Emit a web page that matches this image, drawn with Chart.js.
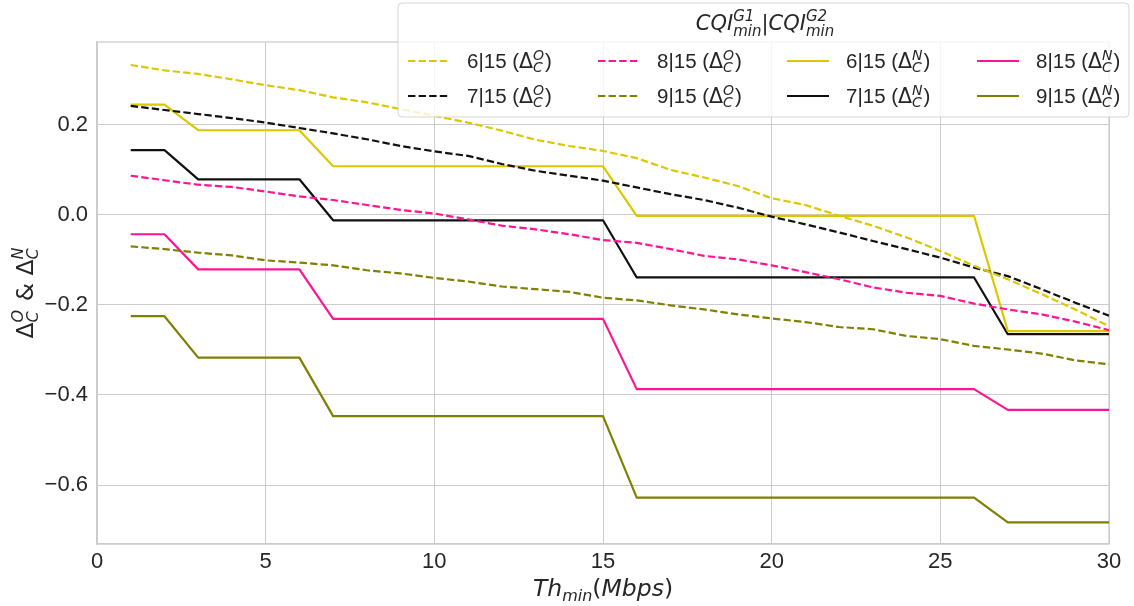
<!DOCTYPE html>
<html>
<head>
<meta charset="utf-8">
<script src="https://cdn.jsdelivr.net/npm/chart.js@4.4.1/dist/chart.umd.min.js"></script>
<style>
html,body{margin:0;padding:0;background:#fff;}
#wrap{width:1134px;height:606px;position:relative;}
</style>
</head>
<body>
<div id="wrap"><canvas id="c" width="1134" height="606"></canvas></div>
<script>
// ---- data ----
const thr = [1,2,3,4,5,6,7,8,9,10,11,12,13,14,15,16,17,18,19,20,21,22,23,24,25,26,27,28,29,30];
const old6 = [0.333,0.321,0.313,0.301,0.288,0.277,0.261,0.250,0.235,0.220,0.205,0.187,0.167,0.153,0.142,0.126,0.100,0.083,0.064,0.037,0.022,-0.002,-0.024,-0.050,-0.080,-0.113,-0.143,-0.176,-0.210,-0.247];
const old7 = [0.242,0.233,0.224,0.215,0.205,0.193,0.181,0.168,0.153,0.141,0.131,0.113,0.098,0.087,0.076,0.061,0.046,0.033,0.016,-0.004,-0.021,-0.039,-0.058,-0.076,-0.095,-0.117,-0.136,-0.165,-0.195,-0.224];
const old8 = [0.087,0.077,0.067,0.062,0.052,0.041,0.033,0.022,0.011,0.003,-0.010,-0.024,-0.032,-0.043,-0.056,-0.062,-0.076,-0.091,-0.099,-0.112,-0.127,-0.143,-0.161,-0.173,-0.180,-0.197,-0.210,-0.221,-0.237,-0.256];
const old9 = [-0.070,-0.076,-0.084,-0.090,-0.101,-0.106,-0.112,-0.123,-0.130,-0.140,-0.148,-0.159,-0.165,-0.171,-0.184,-0.190,-0.201,-0.210,-0.221,-0.230,-0.238,-0.249,-0.254,-0.269,-0.276,-0.291,-0.299,-0.308,-0.323,-0.332];
const new6 = [0.245,0.245,0.188,0.188,0.188,0.188,0.108,0.108,0.108,0.108,0.108,0.108,0.108,0.108,0.108,-0.002,-0.002,-0.002,-0.002,-0.002,-0.002,-0.002,-0.002,-0.002,-0.002,-0.002,-0.258,-0.258,-0.258,-0.258];
const new7 = [0.144,0.144,0.079,0.079,0.079,0.079,-0.012,-0.012,-0.012,-0.012,-0.012,-0.012,-0.012,-0.012,-0.012,-0.139,-0.139,-0.139,-0.139,-0.139,-0.139,-0.139,-0.139,-0.139,-0.139,-0.139,-0.265,-0.265,-0.265,-0.265];
const new8 = [-0.043,-0.043,-0.121,-0.121,-0.121,-0.121,-0.231,-0.231,-0.231,-0.231,-0.231,-0.231,-0.231,-0.231,-0.231,-0.387,-0.387,-0.387,-0.387,-0.387,-0.387,-0.387,-0.387,-0.387,-0.387,-0.387,-0.433,-0.433,-0.433,-0.433];
const new9 = [-0.225,-0.225,-0.317,-0.317,-0.317,-0.317,-0.447,-0.447,-0.447,-0.447,-0.447,-0.447,-0.447,-0.447,-0.447,-0.628,-0.628,-0.628,-0.628,-0.628,-0.628,-0.628,-0.628,-0.628,-0.628,-0.628,-0.683,-0.683,-0.683,-0.683];
const xTicks = [0,5,10,15,20,25,30];
const yTicks = [-0.6,-0.4,-0.2,0.0,0.2];
const seriesNames = ['6|15','7|15','8|15','9|15','6|15','7|15','8|15','9|15'];
const seriesKind = ['O','O','O','O','N','N','N','N'];

// ---- styles ----
const COLORS = {'6|15':'#dcc800','7|15':'#111111','8|15':'#ff1493','9|15':'#808000'};
const DASH = [7.4,3.2];
const GRID = '#cccccc';
const TXT = '#262626';

const seriesData = [old6,old7,old8,old9,new6,new7,new8,new9];
const datasets = seriesData.map((arr,i)=>({
  label: seriesNames[i]+' '+seriesKind[i],
  data: thr.map((x,j)=>({x:x,y:arr[j]})),
  borderColor: COLORS[seriesNames[i]],
  backgroundColor: COLORS[seriesNames[i]],
  borderWidth: 2.2,
  borderDash: seriesKind[i]==='O' ? DASH : [],
  pointRadius: 0,
  tension: 0,
  fill: false,
  borderCapStyle: 'butt',
  borderJoinStyle: 'round'
}));

// ---- rich text helpers ----
function drawRich(ctx, parts, x, y, measureOnly){
  let x0 = x;
  for(const p of parts){
    if(p.sub!==undefined || p.sup!==undefined){
      ctx.font = p.sfont;
      let w = 0;
      if(p.sup){ if(!measureOnly) ctx.fillText(p.sup, x, y - p.supDy); w = Math.max(w, ctx.measureText(p.sup).width); }
      if(p.sub){ if(!measureOnly) ctx.fillText(p.sub, x, y + p.subDy); w = Math.max(w, ctx.measureText(p.sub).width); }
      x += w + (p.after||0);
    } else {
      ctx.font = p.font;
      if(!measureOnly) ctx.fillText(p.t, x, y);
      x += ctx.measureText(p.t).width;
    }
  }
  return x - x0;
}

const MATH = '"DejaVu Sans"';
const SANS = '"Liberation Sans", Arial, sans-serif';

function legendLabel(name, kind){
  return [
    {t: name+' (', font: '20.5px '+SANS},
    {t: '\u0394', font: '20.5px '+MATH},
    {sup: kind, sub: 'C', sfont: 'italic 14px '+MATH, supDy: 8, subDy: 4, after: 1},
    {t: ')', font: '20.5px '+SANS}
  ];
}

const overlay = {
  id: 'overlay',
  beforeDatasetsDraw(chart){
    const ctx = chart.ctx, a = chart.chartArea;
    ctx.save();
    ctx.strokeStyle = GRID;
    ctx.lineWidth = 1.25;
    ctx.strokeRect(a.left, a.top, a.right - a.left, a.bottom - a.top);
    ctx.restore();
  },
  afterDraw(chart){
    const ctx = chart.ctx, a = chart.chartArea;
    ctx.save();
    ctx.fillStyle = TXT;
    ctx.textBaseline = 'alphabetic';
    ctx.textAlign = 'left';

    // x title
    const xt = [
      {t:'Th', font:'italic 23.5px '+MATH},
      {sub:'min', sfont:'italic 16px '+MATH, subDy:5},
      {t:'(', font:'23.5px '+MATH},
      {t:'Mbps', font:'italic 23.5px '+MATH},
      {t:')', font:'23.5px '+MATH}
    ];
    const xw = drawRich(ctx, xt, 0, 0, true);
    drawRich(ctx, xt, (a.left + a.right)/2 - xw/2, 596);

    // y title (rotated)
    const yt = [
      {t:'\u0394', font:'23.5px '+MATH},
      {sup:'O', sub:'C', sfont:'italic 16px '+MATH, supDy:10, subDy:5, after:1},
      {t:' & ', font:'23.5px '+MATH},
      {t:'\u0394', font:'23.5px '+MATH},
      {sup:'N', sub:'C', sfont:'italic 16px '+MATH, supDy:10, subDy:5}
    ];
    const yw = drawRich(ctx, yt, 0, 0, true);
    ctx.save();
    ctx.translate(33, (a.top + a.bottom)/2);
    ctx.rotate(-Math.PI/2);
    drawRich(ctx, yt, -yw/2, 0);
    ctx.restore();

    // legend box
    const bx = 398, by = 3, bw = 731, bh = 114, r = 4;
    ctx.beginPath();
    ctx.moveTo(bx+r, by);
    ctx.arcTo(bx+bw, by, bx+bw, by+bh, r);
    ctx.arcTo(bx+bw, by+bh, bx, by+bh, r);
    ctx.arcTo(bx, by+bh, bx, by, r);
    ctx.arcTo(bx, by, bx+bw, by, r);
    ctx.closePath();
    ctx.fillStyle = 'rgba(255,255,255,0.8)';
    ctx.fill();
    ctx.strokeStyle = 'rgba(204,204,204,0.8)';
    ctx.lineWidth = 1;
    ctx.stroke();

    // legend title
    ctx.fillStyle = TXT;
    const tt = [
      {t:'CQI', font:'italic 21px '+MATH},
      {sup:'G1', sub:'min', sfont:'italic 15px '+MATH, supDy:9, subDy:6},
      {t:'|', font:'21px '+MATH},
      {t:'CQI', font:'italic 21px '+MATH},
      {sup:'G2', sub:'min', sfont:'italic 15px '+MATH, supDy:9, subDy:6}
    ];
    const tw = drawRich(ctx, tt, 0, 0, true);
    drawRich(ctx, tt, 765 - tw/2, 30);

    // legend entries (column-wise, 4 columns x 2 rows)
    const colX = [408, 598, 787, 977];
    const rowY = [61, 96];
    for(let i=0;i<datasets.length;i++){
      const col = Math.floor(i/2), row = i%2;
      const lx = colX[col], ly = rowY[row];
      ctx.save();
      ctx.strokeStyle = datasets[i].borderColor;
      ctx.lineWidth = 2.2;
      ctx.setLineDash(datasets[i].borderDash);
      ctx.beginPath();
      ctx.moveTo(lx, ly);
      ctx.lineTo(lx+42, ly);
      ctx.stroke();
      ctx.restore();
      ctx.fillStyle = TXT;
      drawRich(ctx, legendLabel(seriesNames[i], seriesKind[i]), lx+59, ly+7);
    }
    ctx.restore();
  }
};

const fmt = v => {
  let s = Number(v).toFixed(1);
  if (s === '-0.0') s = '0.0';
  return s.replace('-', '\u2212');
};

new Chart(document.getElementById('c'), {
  type: 'line',
  data: { datasets: datasets },
  options: {
    responsive: false,
    animation: false,
    devicePixelRatio: 1,
    layout: { padding: { left: 0, right: 25, top: 42, bottom: 0 } },
    plugins: { legend: { display: false }, tooltip: { enabled: false }, title: { display: false } },
    scales: {
      x: {
        type: 'linear',
        min: 0, max: 30,
        afterBuildTicks: s => { s.ticks = xTicks.map(v => ({value: v})); },
        afterFit: s => { s.height = 62; },
        grid: { color: GRID, lineWidth: 1, drawTicks: false },
        border: { display: true, color: GRID, width: 1.25 },
        ticks: { color: TXT, font: { family: SANS, size: 22 }, padding: 5, maxRotation: 0, callback: v => String(v) }
      },
      y: {
        type: 'linear',
        min: -0.731, max: 0.384,
        afterBuildTicks: s => { s.ticks = yTicks.map(v => ({value: v})); },
        afterFit: s => { s.width = 97; },
        grid: { color: GRID, lineWidth: 1, drawTicks: false },
        border: { display: true, color: GRID, width: 1.25 },
        ticks: { color: TXT, font: { family: SANS, size: 22 }, padding: 9, callback: v => fmt(v) }
      }
    }
  },
  plugins: [overlay]
});
</script>
</body>
</html>
